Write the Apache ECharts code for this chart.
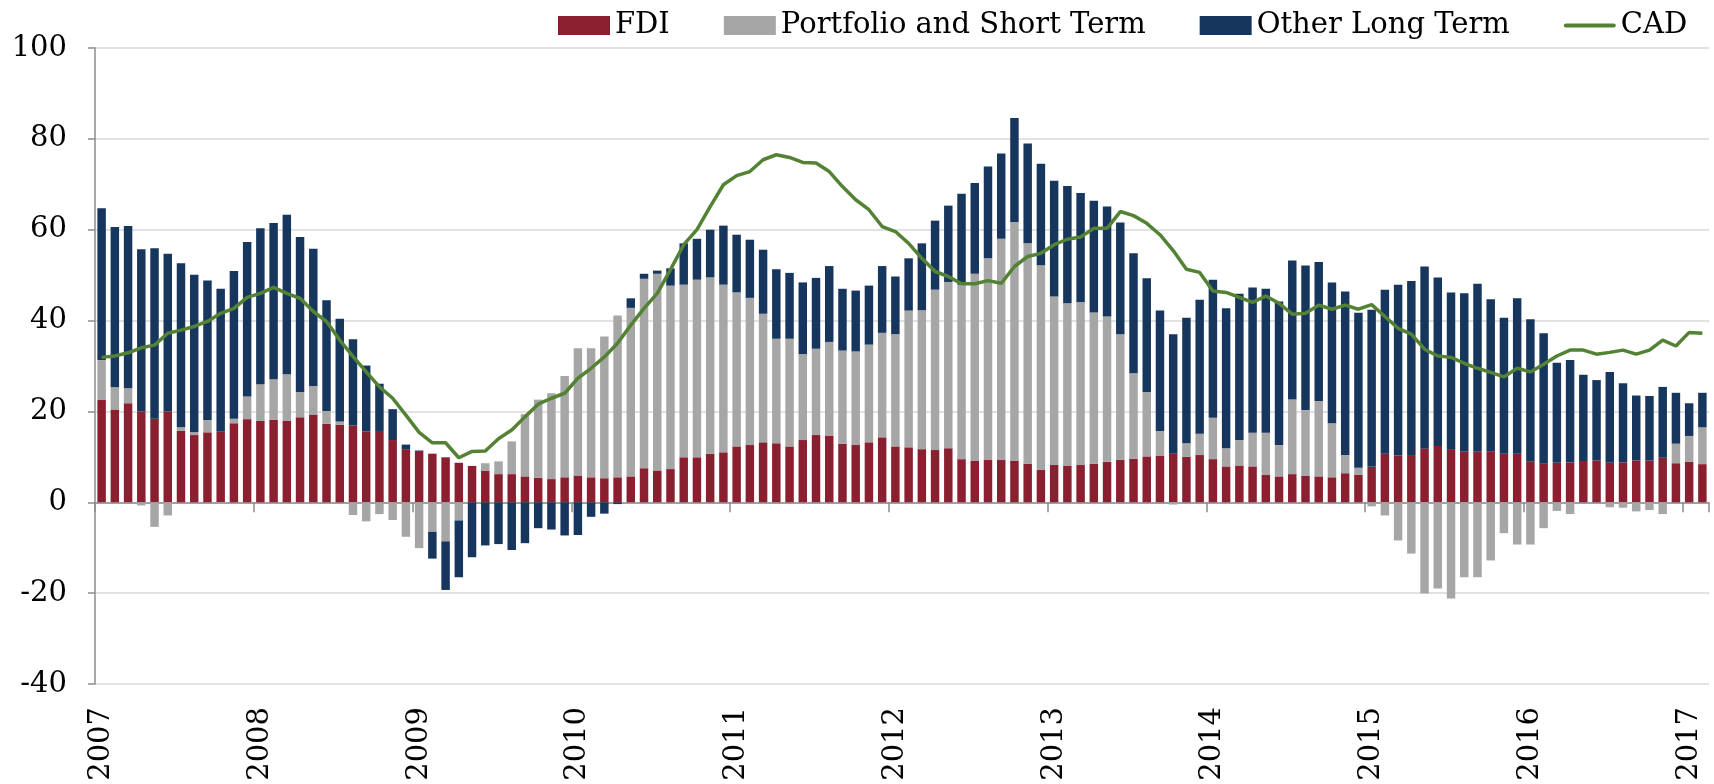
<!DOCTYPE html>
<html>
<head>
<meta charset="utf-8">
<script src="https://cdn.jsdelivr.net/npm/echarts@6/dist/echarts.min.js"></script>
<style>
  html, body { margin: 0; padding: 0; background: #fff; }
  #main { width: 1714px; height: 784px; }
</style>
</head>
<body>
<div id="main"></div>
<script>
// monthly, Jan 2007 .. Feb 2017
var months = [];
for (var y = 2007; y <= 2017; y++) {
  for (var m = 1; m <= 12; m++) {
    if (months.length < 122) months.push(y + "-" + (m < 10 ? "0" + m : m));
  }
}

var fdi = [
  22.5, 20.4, 21.8, 20.0, 18.4, 20.0, 15.7, 14.8, 15.4, 15.5, 17.4, 18.3,
  17.9, 18.2, 17.9, 18.7, 19.3, 17.3, 17.1, 16.9, 15.6, 15.7, 13.7, 11.7,
  11.1, 10.7, 9.9, 8.7, 8.0, 6.9, 6.2, 6.2, 5.7, 5.4, 5.1, 5.5,
  5.9, 5.5, 5.3, 5.5, 5.7, 7.5, 7.0, 7.3, 9.9, 9.9, 10.7, 11.0,
  12.3, 12.6, 13.2, 13.0, 12.3, 13.7, 14.8, 14.6, 12.9, 12.6, 13.2, 14.3,
  12.3, 12.1, 11.7, 11.5, 11.9, 9.5, 9.1, 9.3, 9.3, 9.1, 8.5, 7.1,
  8.2, 8.0, 8.2, 8.5, 8.9, 9.3, 9.6, 10.1, 10.3, 10.7, 10.0, 10.4,
  9.5, 7.9, 8.1, 7.9, 6.0, 5.7, 6.2, 5.8, 5.7, 5.5, 6.4, 6.1,
  7.8, 10.7, 10.3, 10.4, 11.8, 12.4, 11.7, 11.1, 11.2, 11.1, 10.7, 10.7,
  9.0, 8.5, 8.7, 8.8, 9.1, 9.2, 8.7, 8.8, 9.2, 9.2, 9.8, 8.6,
  8.9, 8.4
];

var portfolio = [
  8.8, 4.9, 3.3, -0.7, -5.4, -2.9, 0.8, 0.6, 2.7, -0.3, 1.0, 5.0,
  8.1, 8.9, 10.3, 5.6, 6.3, 2.8, 0.7, -2.8, -4.2, -2.6, -3.9, -7.6,
  -10.1, -6.5, -8.6, -4.0, 0, 1.7, 2.8, 7.2, 13.7, 17.2, 18.9, 22.3,
  28.0, 28.4, 31.2, 35.6, 37.1, 41.7, 43.3, 40.4, 38.0, 39.1, 38.8, 36.9,
  33.9, 32.4, 28.3, 23.0, 23.7, 18.9, 19.0, 20.7, 20.5, 20.6, 21.5, 23.0,
  24.7, 30.1, 30.6, 35.3, 36.6, 38.4, 41.2, 44.4, 48.7, 52.6, 48.5, 45.1,
  37.1, 35.8, 35.9, 33.3, 32.0, 27.7, 18.8, 14.2, 5.4, -0.5, 3.0, 4.7,
  9.1, 4.0, 5.6, 7.4, 9.3, 6.9, 16.4, 14.5, 16.6, 11.9, 4.0, 1.5,
  -0.9, -2.9, -8.4, -11.3, -20.1, -19.0, -21.2, -16.5, -16.5, -12.8, -6.8, -9.3,
  -9.3, -5.7, -1.9, -2.6, 0, 0, -1.1, -1.2, -2.0, -1.7, -2.6, 4.3,
  5.7, 8.1
];

var otherLT = [
  33.4, 35.3, 35.7, 35.7, 37.5, 34.7, 36.1, 34.7, 30.7, 31.5, 32.5, 34.0,
  34.3, 34.4, 35.1, 34.1, 30.2, 24.4, 22.6, 19.0, 14.5, 10.4, 6.8, 1.0,
  0.3, -5.9, -10.7, -12.5, -12.1, -9.5, -9.2, -10.5, -9.0, -5.7, -6.0, -7.3,
  -7.2, -3.2, -2.5, -0.4, 2.1, 1.1, 0.7, 3.8, 9.1, 9.0, 10.5, 13.0,
  12.7, 12.8, 14.1, 15.3, 14.5, 15.8, 15.6, 16.7, 13.6, 13.4, 13.0, 14.7,
  12.7, 11.5, 14.7, 15.2, 16.8, 20.0, 20.0, 20.2, 18.8, 22.9, 22.0, 22.3,
  25.5, 25.8, 24.0, 24.6, 24.2, 24.6, 26.4, 25.0, 26.5, 26.3, 27.6, 29.5,
  30.4, 30.8, 32.2, 32.0, 31.7, 31.6, 30.6, 31.8, 30.6, 31.0, 36.0, 34.1,
  34.6, 36.1, 37.6, 38.3, 40.1, 37.1, 34.5, 34.9, 36.9, 33.6, 29.9, 34.2,
  31.3, 28.7, 22.0, 22.5, 19.0, 17.7, 20.0, 17.4, 14.3, 14.2, 15.6, 11.2,
  7.2, 7.6
];

var cad = [
  31.9, 32.2, 32.9, 34.0, 34.6, 37.2, 37.9, 38.7, 39.8, 41.6, 42.7, 45.1,
  46.0, 47.3, 46.0, 44.9, 42.0, 39.8, 35.7, 32.1, 28.7, 25.4, 22.9, 19.2,
  15.4, 13.1, 13.1, 9.8, 11.2, 11.3, 14.0, 15.9, 18.8, 21.6, 22.9, 24.0,
  27.3, 29.5, 32.0, 35.0, 39.0, 42.7, 46.0, 51.2, 56.7, 60.0, 65.1, 69.9,
  71.9, 72.8, 75.4, 76.5, 75.9, 74.8, 74.7, 72.8, 69.5, 66.6, 64.4, 60.7,
  59.6, 57.0, 53.7, 50.8, 49.7, 48.1, 48.1, 48.8, 48.2, 51.9, 54.1, 54.8,
  56.7, 57.9, 58.4, 60.3, 60.3, 64.0, 63.1, 61.4, 58.9, 55.4, 51.3, 50.6,
  46.5, 46.2, 45.1, 44.0, 45.4, 43.8, 41.4, 41.6, 43.4, 42.5, 43.4, 42.5,
  43.5, 40.9, 38.3, 37.0, 33.7, 32.2, 31.9, 30.6, 29.5, 28.6, 27.6, 29.5,
  28.7, 30.4, 32.2, 33.5, 33.5, 32.6, 33.0, 33.5, 32.6, 33.5, 35.7, 34.4,
  37.4, 37.2
];

var yTicks = { min: -40, max: 100, interval: 20 };

var FONT = "'DejaVu Serif', serif";
var chart = echarts.init(document.getElementById("main"));

var gridBox = { left: 95, right: 5, top: 48, bottom: 100, outerBoundsMode: "none" };

chart.setOption({
  animation: false,
  backgroundColor: "#fff",
  legend: {
    left: 553,
    top: 6,
    itemWidth: 52,
    itemHeight: 19,
    itemGap: 54,
    textStyle: { fontFamily: FONT, fontSize: 29, color: "#000" },
    data: [
      { name: "FDI", icon: "rect" },
      { name: "Portfolio and Short Term", icon: "rect" },
      { name: "Other Long Term", icon: "rect" },
      // thick line, no marker
      { name: "CAD", icon: "path://M2,0 H50 A2,2 0 0 1 50,4 H2 A2,2 0 0 1 2,0 Z" }
    ]
  },
  grid: [
    Object.assign({}, gridBox),
    Object.assign({}, gridBox)
  ],
  xAxis: [
    {
      // axis line + ticks sitting on the zero line
      type: "category",
      gridIndex: 0,
      data: months,
      position: "bottom",
      axisLine: { onZero: true, lineStyle: { color: "#8c8c8c", width: 1.5 } },
      axisTick: { show: true, interval: 11, length: 10, lineStyle: { color: "#8c8c8c", width: 1.5 } },
      axisLabel: { show: false },
      splitLine: { show: false }
    },
    {
      // year labels along the bottom
      type: "category",
      gridIndex: 1,
      data: months,
      position: "bottom",
      axisLine: { show: false, onZero: false },
      axisTick: { show: false },
      axisLabel: {
        interval: 11,
        rotate: 90,
        margin: 23,
        padding: [9, 0, 0, 0],
        fontFamily: FONT,
        fontSize: 29,
        color: "#000",
        formatter: function (v) { return v.slice(0, 4); }
      },
      splitLine: { show: false }
    }
  ],
  yAxis: [
    {
      type: "value",
      gridIndex: 0,
      min: yTicks.min,
      max: yTicks.max,
      interval: yTicks.interval,
      axisLine: { show: true, lineStyle: { color: "#8c8c8c", width: 1.5 } },
      axisTick: { show: true, length: 7, lineStyle: { color: "#8c8c8c", width: 1.5 } },
      axisLabel: { margin: 28, fontFamily: FONT, fontSize: 29, color: "#000" },
      splitLine: { show: true, lineStyle: { color: "#d9d9d9", width: 1.5 } }
    },
    {
      type: "value",
      gridIndex: 1,
      min: yTicks.min,
      max: yTicks.max,
      interval: yTicks.interval,
      show: false
    }
  ],
  series: [
    {
      name: "FDI",
      type: "bar",
      stack: "flows",
      data: fdi,
      barCategoryGap: "36%",
      itemStyle: { color: "#8a1f2f" }
    },
    {
      name: "Portfolio and Short Term",
      type: "bar",
      stack: "flows",
      data: portfolio,
      itemStyle: { color: "#a6a6a6" }
    },
    {
      name: "Other Long Term",
      type: "bar",
      stack: "flows",
      data: otherLT,
      itemStyle: { color: "#17365d" }
    },
    {
      name: "CAD",
      type: "line",
      data: cad,
      symbol: "none",
      z: 5,
      lineStyle: { color: "#548235", width: 3.5 },
      itemStyle: { color: "#548235" }
    }
  ]
});
</script>
</body>
</html>
